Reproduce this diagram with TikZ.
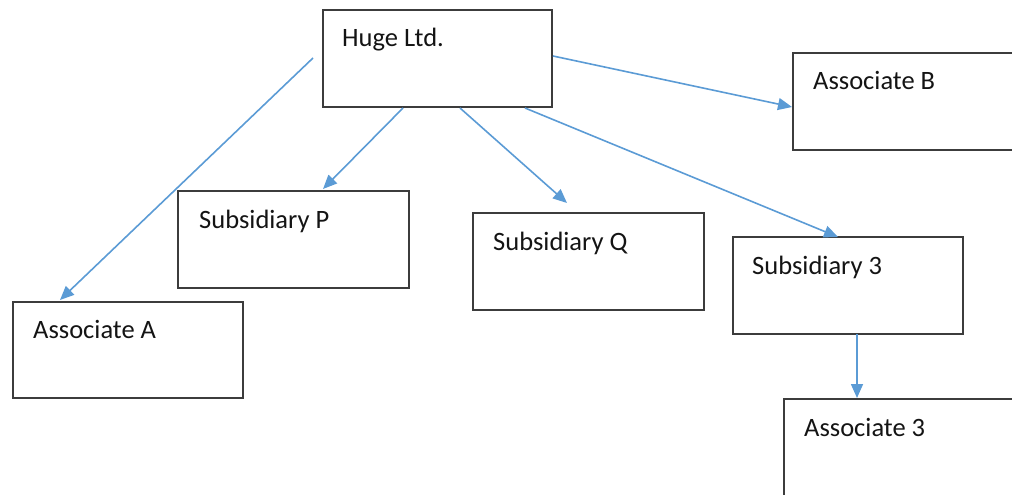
\documentclass[tikz,border=0pt]{standalone}
\usepackage{fontspec}
\setmainfont{Carlito}
\usetikzlibrary{arrows.meta,calc}
\definecolor{linkblue}{HTML}{5B9BD5}
\definecolor{edgegray}{HTML}{3C3C3C}
\definecolor{ink}{HTML}{141414}
\tikzset{
  entity/.style={draw=edgegray, line width=1.4pt, anchor=north west, inner sep=0pt, outer sep=0pt},
  caption/.style={anchor=base west, inner sep=0pt, text=ink, font=\fontsize{26.5}{30}\selectfont},
  holding/.style={draw=linkblue, line width=1.6pt, -{Triangle[length=14pt,width=12pt]}}
}
\begin{document}
\begin{tikzpicture}[x=1pt,y=-1pt]
\useasboundingbox (0,0) rectangle (1012,495);
\clip (0,0) rectangle (1012,495);

% boxes
\node[entity, minimum width=229pt, minimum height=97pt] (huge) at (323,10) {};
\node[entity, minimum width=240pt, minimum height=97pt] (assocB) at (793,53) {};
\node[entity, minimum width=231pt, minimum height=97pt] (subP) at (178,191) {};
\node[entity, minimum width=231pt, minimum height=97pt] (subQ) at (473,213) {};
\node[entity, minimum width=230pt, minimum height=97pt] (sub3) at (733,237) {};
\node[entity, minimum width=230pt, minimum height=96pt] (assocA) at (13,302) {};
\node[entity, minimum width=240pt, minimum height=110pt] (assoc3) at (784,399) {};

% labels
\node[caption] (hugeT) at (342,47) {Huge Ltd.};
\node[caption] (assocBT) at (813,89) {Associate B};
\node[caption] (subPT) at (199,228) {Subsidiary P};
\node[caption] (subQT) at (493,250) {Subsidiary Q};
\node[caption] (sub3T) at (752,274) {Subsidiary 3};
\node[caption] (assocAT) at (33,338) {Associate A};
\node[caption] (assoc3T) at (804,436) {Associate 3};

% holdings
\draw[holding] ($(huge.north west)+(-10,48)$) -- ($(assocA.north west)+(47,-2)$);
\draw[holding] ($(huge.north east)+(1,46)$) -- ($(assocB.north west)+(-1,54)$);
\draw[holding] ($(huge.south west)+(80,1)$) -- ($(subP.north west)+(145,-2)$);
\draw[holding] ($(huge.south west)+(137,1)$) -- ($(subQ.north west)+(94,-10)$);
\draw[holding] ($(huge.south west)+(202,1)$) -- ($(sub3.north west)+(105,0)$);
\draw[holding] ($(sub3.south west)+(124,0)$) -- ($(assoc3.north west)+(73,-1)$);
\end{tikzpicture}
\end{document}
